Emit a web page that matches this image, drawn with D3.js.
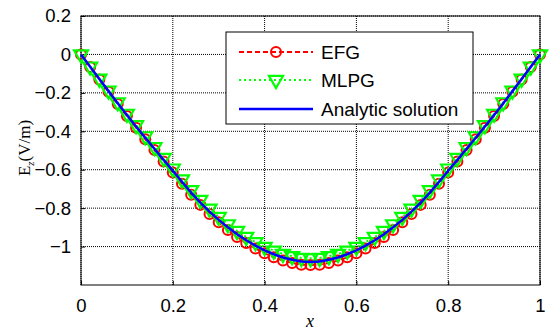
<!DOCTYPE html>
<html>
<head>
<meta charset="utf-8">
<script src="https://cdn.jsdelivr.net/npm/d3@7"></script>
<style>
  body { margin: 0; background: #fff; }
  text { font-family: "Liberation Sans", Arial, sans-serif; }
</style>
</head>
<body>
<div id="chart"></div>
<script>
// x positions of the sample points
const xs = [0, 0.02, 0.04, 0.06, 0.08, 0.1, 0.12, 0.14, 0.16, 0.18, 0.2, 0.22, 0.24, 0.26, 0.28, 0.3,
  0.32, 0.34, 0.36, 0.38, 0.4, 0.42, 0.44, 0.46, 0.48, 0.5, 0.52, 0.54, 0.56, 0.58, 0.6, 0.62, 0.64,
  0.66, 0.68, 0.7, 0.72, 0.74, 0.76, 0.78, 0.8, 0.82, 0.84, 0.86, 0.88, 0.9, 0.92, 0.94, 0.96, 0.98, 1];

const efg = [0, -0.065, -0.130, -0.194, -0.258, -0.320, -0.381, -0.441, -0.498, -0.557, -0.614,
  -0.673, -0.730, -0.783, -0.830, -0.874, -0.914, -0.950, -0.982, -1.010, -1.035, -1.056, -1.073,
  -1.085, -1.094, -1.096, -1.094, -1.085, -1.073, -1.056, -1.035, -1.010, -0.982, -0.950, -0.914,
  -0.874, -0.830, -0.783, -0.730, -0.673, -0.614, -0.557, -0.498, -0.441, -0.381, -0.320, -0.258,
  -0.194, -0.130, -0.065, 0];

const mlpg = [0, -0.063, -0.126, -0.188, -0.249, -0.309, -0.368, -0.426, -0.482, -0.539, -0.594,
  -0.651, -0.706, -0.757, -0.803, -0.846, -0.884, -0.919, -0.950, -0.977, -1.002, -1.021, -1.038,
  -1.050, -1.059, -1.061, -1.059, -1.050, -1.038, -1.021, -1.002, -0.977, -0.950, -0.919, -0.884,
  -0.846, -0.803, -0.757, -0.706, -0.651, -0.594, -0.539, -0.482, -0.426, -0.368, -0.309, -0.249,
  -0.188, -0.126, -0.063, 0];

const analytic = [0, -0.064, -0.128, -0.191, -0.254, -0.315, -0.375, -0.434, -0.491, -0.549, -0.605,
  -0.663, -0.719, -0.771, -0.818, -0.861, -0.900, -0.936, -0.967, -0.995, -1.020, -1.040, -1.057,
  -1.069, -1.078, -1.080, -1.078, -1.069, -1.057, -1.040, -1.020, -0.995, -0.967, -0.936, -0.900,
  -0.861, -0.818, -0.771, -0.719, -0.663, -0.605, -0.549, -0.491, -0.434, -0.375, -0.315, -0.254,
  -0.191, -0.128, -0.064, 0];

const xTicks = [0, 0.2, 0.4, 0.6, 0.8, 1];
const yTicks = [0.2, 0, -0.2, -0.4, -0.6, -0.8, -1];
const legendLabels = ["EFG", "MLPG", "Analytic solution"];

const width = 549, height = 331;
const margin = {top: 16, right: 9, bottom: 46, left: 81};
const w = width - margin.left - margin.right,
      h = height - margin.top - margin.bottom;

const svg = d3.select("#chart").append("svg")
  .attr("width", width)
  .attr("height", height);

const g = svg.append("g")
  .attr("transform", "translate(" + margin.left + "," + margin.top + ")");

const x = d3.scaleLinear().domain([0, 1]).range([0, w]);
const y = d3.scaleLinear().domain([-1.2, 0.2]).range([h, 0]);

// grid
g.append("g").selectAll("line")
  .data(yTicks)
  .enter().append("line")
    .attr("x1", 0).attr("x2", w)
    .attr("y1", d => y(d)).attr("y2", d => y(d))
    .attr("stroke", "#000").attr("stroke-width", 1)
    .attr("stroke-dasharray", "1,1");
g.append("g").selectAll("line")
  .data(xTicks)
  .enter().append("line")
    .attr("y1", 0).attr("y2", h)
    .attr("x1", d => x(d)).attr("x2", d => x(d))
    .attr("stroke", "#000").attr("stroke-width", 1)
    .attr("stroke-dasharray", "1,1");

// axes
const xAxis = g.append("g")
  .attr("transform", "translate(0," + h + ")")
  .call(d3.axisBottom(x).tickValues(xTicks).tickSize(-4).tickPadding(14)
    .tickFormat(d3.format("")));
const yAxis = g.append("g")
  .call(d3.axisLeft(y).tickValues(yTicks).tickSize(-4).tickPadding(10)
    .tickFormat(d => d === 0 ? "0" : d3.format("")(d)));
[xAxis, yAxis].forEach(a => {
  a.select(".domain").remove();
  a.selectAll("text").style("font-size", "18.5px").attr("fill", "#000")
    .style("font-family", "Liberation Sans, Arial, sans-serif");
});

g.append("rect")
  .attr("width", w).attr("height", h)
  .attr("fill", "none").attr("stroke", "#000").attr("stroke-width", 1);

const line = d3.line()
  .x((d, i) => x(xs[i]))
  .y(d => y(d));

const tri = d3.symbol().type(d3.symbolTriangle).size(85);

// EFG
g.append("path").datum(efg)
  .attr("d", line).attr("fill", "none")
  .attr("stroke", "#ff0000").attr("stroke-width", 2)
  .attr("stroke-dasharray", "5,3");
g.append("g").selectAll("circle")
  .data(efg).enter().append("circle")
    .attr("cx", (d, i) => x(xs[i])).attr("cy", d => y(d))
    .attr("r", 5).attr("fill", "none")
    .attr("stroke", "#ff0000").attr("stroke-width", 2);

// MLPG
g.append("path").datum(mlpg)
  .attr("d", line).attr("fill", "none")
  .attr("stroke", "#00ff00").attr("stroke-width", 2)
  .attr("stroke-dasharray", "2,3");
g.append("g").selectAll("path")
  .data(mlpg).enter().append("path")
    .attr("d", tri)
    .attr("transform", (d, i) => "translate(" + x(xs[i]) + "," + y(d) + ") rotate(180)")
    .attr("fill", "none")
    .attr("stroke", "#00ff00").attr("stroke-width", 2.2);

// analytic
g.append("path").datum(analytic)
  .attr("d", line).attr("fill", "none")
  .attr("stroke", "#0000ff").attr("stroke-width", 2.5);

// legend
const leg = svg.append("g").attr("transform", "translate(226,32)");
leg.append("rect")
  .attr("width", 247).attr("height", 92)
  .attr("fill", "#fff").attr("stroke", "#000").attr("stroke-width", 1);
const rows = [20, 48, 77];
leg.append("line").attr("x1", 13).attr("x2", 87).attr("y1", rows[0]).attr("y2", rows[0])
  .attr("stroke", "#ff0000").attr("stroke-width", 2).attr("stroke-dasharray", "5,3");
leg.append("circle").attr("cx", 50).attr("cy", rows[0]).attr("r", 5)
  .attr("fill", "none").attr("stroke", "#ff0000").attr("stroke-width", 2);
leg.append("line").attr("x1", 13).attr("x2", 87).attr("y1", rows[1]).attr("y2", rows[1])
  .attr("stroke", "#00ff00").attr("stroke-width", 2).attr("stroke-dasharray", "2,3");
leg.append("path").attr("d", tri)
  .attr("transform", "translate(50," + rows[1] + ") rotate(180)")
  .attr("fill", "none").attr("stroke", "#00ff00").attr("stroke-width", 2.2);
leg.append("line").attr("x1", 13).attr("x2", 87).attr("y1", rows[2]).attr("y2", rows[2])
  .attr("stroke", "#0000ff").attr("stroke-width", 2.5);
leg.selectAll("text.lbl")
  .data(legendLabels).enter().append("text")
    .attr("class", "lbl")
    .attr("x", 95).attr("y", (d, i) => rows[i] + 7)
    .style("font-size", "19px")
    .text(d => d);

// axis labels
svg.append("text")
  .attr("x", 310).attr("y", 327)
  .attr("text-anchor", "middle")
  .style("font-family", "Liberation Serif, Times New Roman, serif")
  .style("font-style", "italic")
  .style("font-size", "18px")
  .text("x");

const yl = svg.append("text")
  .attr("transform", "translate(30,148) rotate(-90)")
  .attr("text-anchor", "middle")
  .style("font-family", "Liberation Serif, Times New Roman, serif")
  .style("font-size", "17px");
yl.append("tspan").text("E");
yl.append("tspan").attr("dy", 4).style("font-size", "11px").style("font-style", "italic").text("z");
yl.append("tspan").attr("dy", -4).text("(V/m)");
</script>
</body>
</html>
